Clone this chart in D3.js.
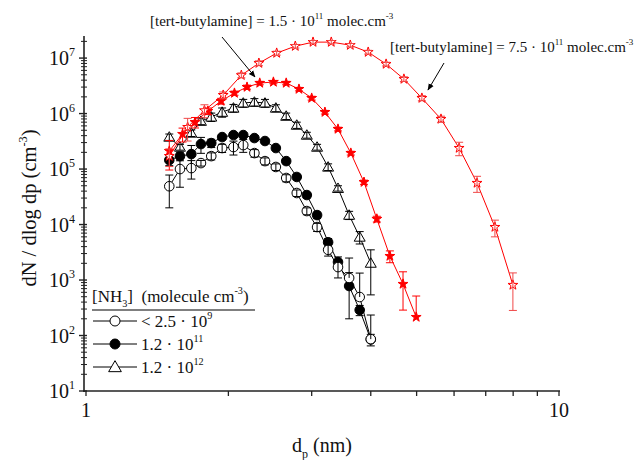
<!DOCTYPE html>
<html>
<head>
<meta charset="utf-8">
<script src="https://cdn.jsdelivr.net/npm/d3@7"></script>
<style>
  body { margin: 0; background: #fff; }
  svg { font-family: "Liberation Serif", "Times New Roman", serif; }
  text { white-space: pre; }
</style>
</head>
<body>
<svg id="chart" width="638" height="460"></svg>
<script>
// Діаметри частинок (нм) для серій з NH3
const dpNH3 = [1.50, 1.58, 1.67, 1.75, 1.84, 1.94, 2.05, 2.15, 2.27, 2.39, 2.52, 2.65, 2.79, 2.93, 3.08, 3.25, 3.41, 3.60, 3.79, 4.00];
// Діаметри для tert-butylamine серій
const dpAmineLow = [1.50, 1.60, 1.70, 1.81, 1.93, 2.06, 2.19, 2.33, 2.49, 2.65, 2.82, 3.00, 3.20, 3.41, 3.63, 3.87, 4.12, 4.39, 4.68, 4.99];
const dpAmineHigh = [1.50, 1.64, 1.78, 1.95, 2.13, 2.32, 2.53, 2.77, 3.02, 3.30, 3.62, 3.95, 4.31, 4.70, 5.13, 5.63, 6.15, 6.71, 7.32, 7.99];

// [NH3] < 2.5e9
const nh3Low = [4.9e4, 1.0e5, 1.04e5, 1.28e5, 1.71e5, 2.39e5, 2.49e5, 2.70e5, 1.94e5, 1.39e5, 1.09e5, 6.9e4, 3.7e4, 1.75e4, 9.0e3, 3.5e3, 1.71e3, 1.09e3, 494, 86];
const nh3LowErr = [2.9e4, 5.3e4, 3.8e4, 1.5e4, 2.5e4, 4e4, 7e4, 7e4, 3e4, 2e4, 1.5e4, 1e4, 5e3, 2.5e3, 1.5e3, 800, 620, 1400, 840, 148];
// [NH3] = 1.2e11
const nh3Mid = [1.45e5, 1.71e5, 1.86e5, 2.82e5, 2.94e5, 3.77e5, 4.10e5, 4.10e5, 3.62e5, 3.20e5, 2.39e5, 1.39e5, 7.2e4, 3.4e4, 1.48e4, 4.8e3, 2.11e3, 780, 288, 85];
const nh3MidErr = [3e4, 3e4, 8e4, 9e4, 5e4, 4e4, 4e4, 4e4, 4e4, 3e4, 2e4, 1.5e4, 8e3, 4e3, 2e3, 800, 500, 580, 60, 20];
// [NH3] = 1.2e12
const nh3High = [3.78e5, 2.49e5, 4.46e5, 7.3e5, 8.7e5, 1.06e6, 1.26e6, 1.55e6, 1.61e6, 1.55e6, 1.26e6, 9.0e5, 6.2e5, 4.10e5, 2.49e5, 1.09e5, 4.5e4, 1.48e4, 5.96e3, 2.02e3];
const nh3HighErr = [5e4, 3e4, 6e4, 1e5, 1.5e5, 2e5, 2e5, 2.5e5, 2.5e5, 2.5e5, 1.8e5, 1.2e5, 8e4, 5e4, 3e4, 1.5e4, 5e3, 2.5e3, 1.5e3, 1480];
// [tert-butylamine] = 1.5e11
const amineLow = [2.11e5, 4.27e5, 7.0e5, 1.11e6, 1.68e6, 2.34e6, 3.0e6, 3.55e6, 3.70e6, 3.55e6, 2.76e6, 1.90e6, 1.06e6, 5.26e5, 1.94e5, 5.8e4, 1.26e4, 2.70e3, 847, 215];
const amineLowErr = [1.15e5, 1.2e5, 1.5e5, 1.5e5, 2e5, 2e5, 2.5e5, 2.5e5, 2.5e5, 2.5e5, 2e5, 1.5e5, 8e4, 4e4, 1.5e4, 5e3, 1.5e3, 650, 560, 300];
// [tert-butylamine] = 7.5e11
const amineHigh = [1.71e5, 5.7e5, 1.14e6, 2.15e6, 4.9e6, 8.1e6, 1.23e7, 1.64e7, 1.94e7, 1.94e7, 1.71e7, 1.28e7, 7.8e6, 4.19e6, 1.90e6, 7.96e5, 2.39e5, 5.6e4, 9.0e3, 813];
const amineHighErr = [6e4, 2.5e5, 3e5, 3e5, 5e5, 8e5, 1e6, 1.2e6, 1.3e6, 1.3e6, 1.2e6, 1e6, 6e5, 4e5, 2e5, 1e5, 6.5e4, 1.8e4, 3000, 530];

const xTicks = [1, 2, 3, 4, 5, 6, 7, 8, 9, 10];
const xTickLabels = { 1: '1', 10: '10' };
const yExponents = [1, 2, 3, 4, 5, 6, 7];
const legendLabels = [
  [['< 2.5 · 10', null], ['9', 'sup']],
  [['1.2 · 10', null], ['11', 'sup']],
  [['1.2 · 10', null], ['12', 'sup']]
];

const svg = d3.select('#chart');

const xScale = d3.scaleLog().domain([1, 10]).range([86, 559]);
const yScale = d3.scaleLog().domain([10, 2.5e7]).range([391, 36]);

// Текст з верхніми/нижніми індексами
function richText(sel, parts, size) {
  let shift = 0;
  parts.forEach(([str, kind]) => {
    const target = kind === 'sup' ? -0.45 * size : kind === 'sub' ? 0.3 * size : 0;
    const t = sel.append('tspan').text(str).attr('dy', target - shift);
    if (kind) t.attr('font-size', size * 0.6);
    shift = target;
  });
  return sel;
}

// Осі
const axisColor = '#222';
svg.append('line')
  .attr('x1', 84).attr('x2', 84)
  .attr('y1', 36).attr('y2', 392)
  .style('stroke', axisColor).style('stroke-width', 1.6);
svg.append('line')
  .attr('x1', 83).attr('x2', 560)
  .attr('y1', 391).attr('y2', 391)
  .style('stroke', axisColor).style('stroke-width', 1.6);

// Поділки осі X
svg.append('g')
  .selectAll('line')
  .data(xTicks)
  .enter()
  .append('line')
  .attr('x1', d => xScale(d)).attr('x2', d => xScale(d))
  .attr('y1', 391).attr('y2', 396)
  .style('stroke', axisColor).style('stroke-width', 1.3);

svg.append('g')
  .selectAll('text')
  .data(xTicks.filter(d => xTickLabels[d]))
  .enter()
  .append('text')
  .attr('x', d => xScale(d))
  .attr('y', 417)
  .attr('text-anchor', 'middle')
  .style('font-size', '20px')
  .style('fill', '#111')
  .text(d => xTickLabels[d]);

// Поділки осі Y
const yMinor = [];
yExponents.forEach(e => {
  for (let k = 2; k <= 9; k++) {
    const v = k * Math.pow(10, e);
    if (v <= 2.5e7) yMinor.push(v);
  }
});

svg.append('g')
  .selectAll('line')
  .data(yMinor)
  .enter()
  .append('line')
  .attr('x1', 81).attr('x2', 87)
  .attr('y1', d => yScale(d)).attr('y2', d => yScale(d))
  .style('stroke', axisColor).style('stroke-width', 1);

svg.append('g')
  .selectAll('line')
  .data(yExponents)
  .enter()
  .append('line')
  .attr('x1', 79).attr('x2', 87)
  .attr('y1', d => yScale(Math.pow(10, d))).attr('y2', d => yScale(Math.pow(10, d)))
  .style('stroke', axisColor).style('stroke-width', 1.4);

svg.append('g')
  .selectAll('text')
  .data(yExponents)
  .enter()
  .append('text')
  .attr('x', 49)
  .attr('y', d => yScale(Math.pow(10, d)) + 7)
  .style('font-size', '20px')
  .style('fill', '#111')
  .each(function (d) {
    richText(d3.select(this), [['10', null], [String(d), 'sup']], 20);
  });

// Підписи осей
richText(
  svg.append('text')
    .attr('transform', 'translate(36, 208) rotate(-90)')
    .attr('text-anchor', 'middle')
    .style('font-size', '20.5px')
    .style('fill', '#111'),
  [['dN / dlog dp (cm', null], ['-3', 'sup'], [')', null]], 20.5
);

richText(
  svg.append('text')
    .attr('x', 322)
    .attr('y', 452)
    .attr('text-anchor', 'middle')
    .style('font-size', '20px')
    .style('fill', '#111'),
  [['d', null], ['p', 'sub'], [' (nm)', null]], 20
);

// Маркери
const star = d3.symbol().type(d3.symbolStar).size(30);
const tri = d3.symbol().type(d3.symbolTriangle).size(52);

const seriesList = [
  { x: dpNH3, y: nh3Low, err: nh3LowErr, color: 'black', shape: 'circle', fill: 'white', barColor: 'black' },
  { x: dpNH3, y: nh3Mid, err: nh3MidErr, color: 'black', shape: 'circle', fill: 'black', barColor: 'black' },
  { x: dpNH3, y: nh3High, err: nh3HighErr, color: 'black', shape: 'triangle', fill: 'white', barColor: 'black' },
  { x: dpAmineLow, y: amineLow, err: amineLowErr, color: 'red', shape: 'star', fill: 'red', barColor: 'red' },
  { x: dpAmineHigh, y: amineHigh, err: amineHighErr, color: 'red', shape: 'star', fill: 'white', barColor: '#f04848' }
];

function drawMarker(g, shape, fill, color) {
  if (shape === 'circle') {
    return g.append('circle').attr('r', 4.8).style('fill', fill).style('stroke', color).style('stroke-width', 1);
  }
  const p = g.append('path').attr('d', shape === 'star' ? star() : tri());
  if (shape === 'triangle') p.attr('transform', 'translate(0,1)');
  return p.style('fill', fill).style('stroke', color).style('stroke-width', 1);
}

// Порядок малювання: заповнені кола під відкритими
const drawOrder = [1, 0, 2, 3, 4];
drawOrder.forEach(idx => {
  const s = seriesList[idx];
  const pts = s.x.map((d, i) => ({ x: d, y: s.y[i], e: s.err[i] }));
  const g = svg.append('g');

  g.append('path')
    .datum(pts)
    .attr('d', d3.line().x(d => xScale(d.x)).y(d => yScale(d.y)))
    .style('fill', 'none')
    .style('stroke', s.color)
    .style('stroke-width', 1);

  pts.forEach(d => {
    const m = g.append('g').attr('transform', `translate(${xScale(d.x)}, ${yScale(d.y)})`);
    drawMarker(m, s.shape, s.fill, s.color);
  });

  // Похибки поверх маркерів
  pts.forEach(d => {
    const cx = xScale(d.x);
    const top = yScale(d.y + d.e);
    const bottom = d.y - d.e > 0 ? yScale(d.y - d.e) : yScale(d.y);
    g.append('line').attr('x1', cx).attr('x2', cx).attr('y1', top).attr('y2', bottom)
      .style('stroke', s.barColor).style('stroke-width', 1);
    g.append('line').attr('x1', cx - 4).attr('x2', cx + 4).attr('y1', top).attr('y2', top)
      .style('stroke', s.barColor).style('stroke-width', 1);
    if (d.y - d.e > 0) {
      g.append('line').attr('x1', cx - 4).attr('x2', cx + 4).attr('y1', bottom).attr('y2', bottom)
        .style('stroke', s.barColor).style('stroke-width', 1);
    }
  });
});

// Анотації зі стрілками
svg.append('defs').append('marker')
  .attr('id', 'arrow')
  .attr('viewBox', '0 0 10 10')
  .attr('refX', 9).attr('refY', 5)
  .attr('markerWidth', 7).attr('markerHeight', 7)
  .attr('orient', 'auto')
  .append('path')
  .attr('d', 'M0,1 L10,5 L0,9 Z')
  .style('fill', 'black');

svg.append('line')
  .attr('x1', 222).attr('y1', 37).attr('x2', 255).attr('y2', 77)
  .style('stroke', 'black').style('stroke-width', 1)
  .attr('marker-end', 'url(#arrow)');

svg.append('line')
  .attr('x1', 444).attr('y1', 63).attr('x2', 428).attr('y2', 90)
  .style('stroke', 'black').style('stroke-width', 1)
  .attr('marker-end', 'url(#arrow)');

richText(
  svg.append('text').attr('x', 150).attr('y', 26).style('font-size', '15px').style('fill', '#111'),
  [['[tert-butylamine] = 1.5 · 10', null], ['11', 'sup'], [' molec.cm', null], ['-3', 'sup']], 15
);

richText(
  svg.append('text').attr('x', 390).attr('y', 52).style('font-size', '15px').style('fill', '#111'),
  [['[tert-butylamine] = 7.5 · 10', null], ['11', 'sup'], [' molec.cm', null], ['-3', 'sup']], 15
);

// Легенда
const legend = svg.append('g');
richText(
  legend.append('text').attr('x', 92).attr('y', 302).style('font-size', '17px').style('fill', '#111'),
  [['[NH', null], ['3', 'sub'], [']  (molecule cm', null], ['-3', 'sup'], [')', null]], 17
);
legend.append('line')
  .attr('x1', 92).attr('x2', 255).attr('y1', 310).attr('y2', 310)
  .style('stroke', '#555').style('stroke-width', 1.5);

const legendShapes = seriesList.slice(0, 3);
legendShapes.forEach((s, i) => {
  const ly = 321 + i * 23;
  legend.append('line')
    .attr('x1', 93).attr('x2', 137).attr('y1', ly).attr('y2', ly)
    .style('stroke', 'black').style('stroke-width', 1);
  const m = legend.append('g').attr('transform', `translate(115, ${ly})`);
  if (s.shape === 'circle') {
    m.append('circle').attr('r', 5).style('fill', s.fill).style('stroke', 'black');
  } else {
    m.append('path').attr('d', d3.symbol().type(d3.symbolTriangle).size(70)()).attr('transform', 'translate(0,1)')
      .style('fill', 'white').style('stroke', 'black');
  }
  richText(
    legend.append('text').attr('x', 141).attr('y', ly + 6).style('font-size', '17px').style('fill', '#111'),
    legendLabels[i], 17
  );
});
</script>
</body>
</html>
